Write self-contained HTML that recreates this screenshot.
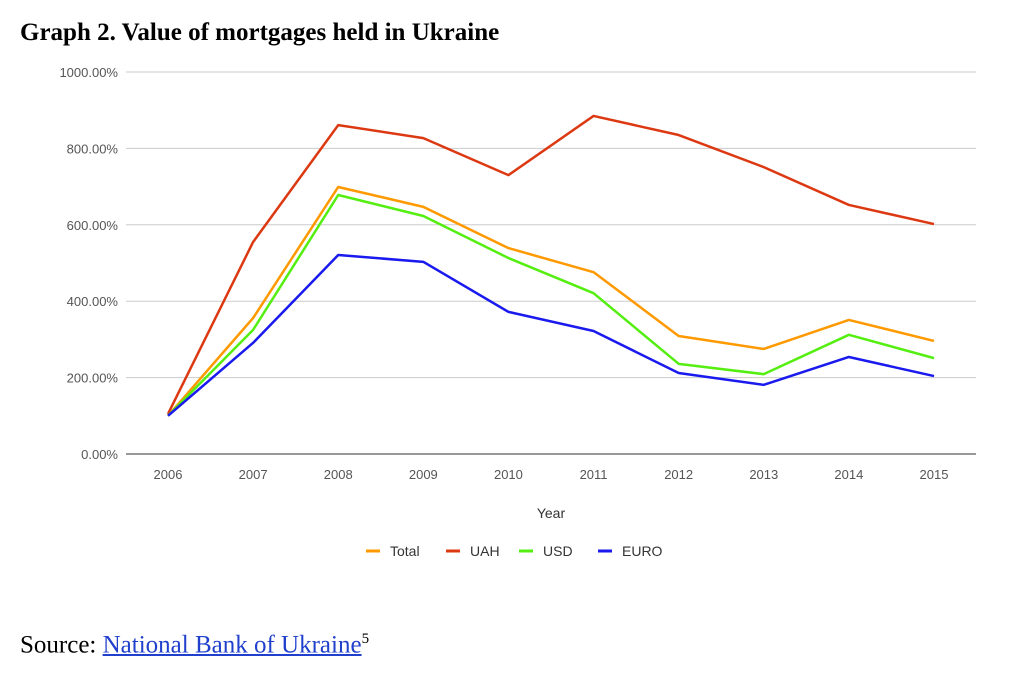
<!DOCTYPE html>
<html><head><meta charset="utf-8"><style>
body{margin:0;width:1024px;height:690px;background:#fff;overflow:hidden;position:relative}
.title{position:absolute;left:20px;top:19px;font:bold 25px "Liberation Serif",serif;color:#000}
.src{position:absolute;left:20px;top:631px;font:25px "Liberation Serif",serif;color:#000}
.src a{color:#1f3fcc;text-decoration:underline}
svg{position:absolute;left:0;top:0}
</style></head><body>
<div class="title">Graph 2. Value of mortgages held in Ukraine</div>
<div class="src">Source: <a>National Bank of Ukraine</a><sup style="font-size:15px">5</sup></div>
<svg id="c" width="1024" height="690"></svg>
<script>
const years=["2006","2007","2008","2009","2010","2011","2012","2013","2014","2015"];
const total=[100,356,699,647,539,476,309,275,351,296];
const uah=[105,555,861,827,730,885,835,751,652,602];
const usd=[100,325,678,623,513,421,236,209,312,251];
const euro=[100,291,521,503,372,322,212,181,254,204];
const yTicks=[0,200,400,600,800,1000];
const series=[["Total",total,"#ff9900"],["UAH",uah,"#dc3912"],["USD",usd,"#55ee11"],["EURO",euro,"#1a1aee"]];
const svg=document.getElementById('c');const NS='http://www.w3.org/2000/svg';
const X=i=>168+i*(934-168)/(years.length-1);
const Y=v=>454-v*0.382;
function mk(t,a,txt){const e=document.createElementNS(NS,t);for(const k in a)e.setAttribute(k,a[k]);if(txt!==undefined)e.textContent=txt;svg.appendChild(e);return e;}
yTicks.forEach(v=>{
 const l=mk('line',{x1:126,x2:976,y1:Y(v),y2:Y(v),stroke:v===0?'#333':'#ccc','stroke-width':1});
 
 
 const t=mk('text',{x:118,y:Y(v)+5,'text-anchor':'end','font-family':'Liberation Sans,sans-serif','font-size':13,fill:'#555'},v.toFixed(2)+'%');
 
 
});
years.forEach((y,i)=>{
 const t=mk('text',{x:X(i),y:479,'text-anchor':'middle','font-family':'Liberation Sans,sans-serif','font-size':13,fill:'#555'},y);
 
 
});
const xt=mk('text',{x:551,y:518,'text-anchor':'middle','font-family':'Liberation Sans,sans-serif','font-size':14,fill:'#333'},'Year');


series.forEach(([n,d,c])=>{
 const p=mk('polyline',{points:d.map((v,i)=>X(i)+','+Y(v)).join(' '),fill:'none',stroke:c,'stroke-width':2.5,'stroke-linejoin':'round'});
 
 
});
const lx=[366,446,519,598];
series.forEach(([n,d,c],i)=>{
 const l=mk('line',{x1:lx[i],x2:lx[i]+14,y1:551,y2:551,stroke:c,'stroke-width':3});
 
 
 const t=mk('text',{x:lx[i]+24,y:556,'font-family':'Liberation Sans,sans-serif','font-size':14,fill:'#333'},n);
 
 
});
</script>
</body></html>
